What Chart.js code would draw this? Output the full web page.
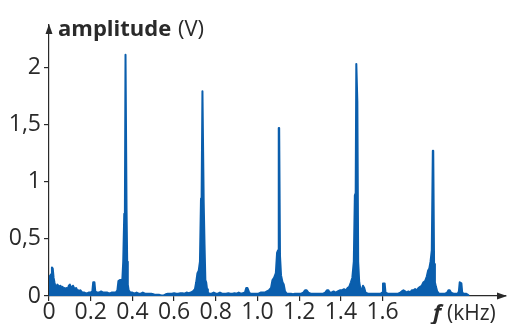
<!DOCTYPE html>
<html>
<head>
<meta charset="utf-8">
<script src="https://cdn.jsdelivr.net/npm/chart.js@4.4.0/dist/chart.umd.min.js"></script>
<style>
  html, body { margin: 0; padding: 0; background: #fff; }
  #wrap { width: 507px; height: 324px; }
</style>
</head>
<body>
<div id="wrap"><canvas id="spectre"></canvas></div>
<script>
// Spectre : fréquences (kHz) et amplitudes (V)
const freqs = [
  0.000, 0.005, 0.010, 0.014, 0.018, 0.022, 0.026, 0.030, 0.035, 0.040,
  0.045, 0.050, 0.055, 0.060, 0.065, 0.070, 0.075, 0.080, 0.085, 0.090,
  0.095, 0.100, 0.105, 0.110, 0.115, 0.120, 0.125, 0.130, 0.135, 0.140,
  0.145, 0.150, 0.155, 0.160, 0.170, 0.180, 0.190, 0.200, 0.208, 0.212,
  0.218, 0.222, 0.230, 0.240, 0.250, 0.260, 0.270, 0.280, 0.290, 0.300,
  0.310, 0.320, 0.328, 0.333, 0.340, 0.348, 0.352, 0.356, 0.361, 0.364,
  0.367, 0.369, 0.372, 0.375, 0.378, 0.382, 0.390, 0.400, 0.410, 0.420,
  0.430, 0.440, 0.450, 0.460, 0.470, 0.480, 0.490, 0.500, 0.510, 0.520,
  0.530, 0.540, 0.550, 0.560, 0.570, 0.580, 0.590, 0.600, 0.610, 0.620,
  0.630, 0.640, 0.650, 0.660, 0.670, 0.680, 0.690, 0.700, 0.706, 0.712,
  0.718, 0.724, 0.729, 0.732, 0.736, 0.738, 0.742, 0.746, 0.750, 0.754,
  0.758, 0.762, 0.770, 0.780, 0.790, 0.800, 0.810, 0.820, 0.830, 0.840,
  0.850, 0.860, 0.870, 0.880, 0.890, 0.900, 0.910, 0.920, 0.930, 0.940,
  0.946, 0.952, 0.958, 0.965, 0.975, 0.985, 0.995, 1.005, 1.015, 1.025,
  1.035, 1.045, 1.055, 1.065, 1.072, 1.080, 1.088, 1.094, 1.099, 1.102,
  1.104, 1.108, 1.113, 1.120, 1.126, 1.132, 1.140, 1.150, 1.160, 1.170,
  1.180, 1.190, 1.200, 1.210, 1.220, 1.228, 1.236, 1.244, 1.255, 1.265,
  1.275, 1.285, 1.295, 1.305, 1.315, 1.325, 1.333, 1.340, 1.346, 1.355,
  1.365, 1.375, 1.385, 1.395, 1.405, 1.415, 1.425, 1.432, 1.440, 1.448,
  1.455, 1.462, 1.467, 1.471, 1.474, 1.476, 1.479, 1.483, 1.488, 1.494,
  1.500, 1.506, 1.512, 1.518, 1.530, 1.540, 1.550, 1.560, 1.570, 1.580,
  1.590, 1.598, 1.602, 1.610, 1.614, 1.625, 1.635, 1.645, 1.655, 1.665,
  1.675, 1.685, 1.692, 1.700, 1.708, 1.716, 1.724, 1.732, 1.740, 1.748,
  1.756, 1.764, 1.772, 1.780, 1.788, 1.796, 1.804, 1.812, 1.818, 1.824,
  1.830, 1.836, 1.841, 1.843, 1.847, 1.851, 1.856, 1.862, 1.870, 1.880,
  1.890, 1.900, 1.910, 1.916, 1.922, 1.928, 1.940, 1.950, 1.960, 1.966,
  1.970, 1.978, 1.982, 1.990, 2.000, 2.010, 2.015
];

const amps = [
  0.18, 0.17, 0.19, 0.25, 0.24, 0.16, 0.12, 0.09, 0.08, 0.10,
  0.09, 0.08, 0.09, 0.07, 0.08, 0.06, 0.07, 0.06, 0.07, 0.06,
  0.09, 0.10, 0.08, 0.07, 0.09, 0.07, 0.06, 0.07, 0.05, 0.05,
  0.04, 0.05, 0.04, 0.03, 0.03, 0.02, 0.03, 0.03, 0.04, 0.12,
  0.12, 0.04, 0.03, 0.03, 0.04, 0.03, 0.03, 0.03, 0.02, 0.03,
  0.03, 0.03, 0.05, 0.13, 0.14, 0.14, 0.15, 0.30, 0.72, 0.74,
  2.11, 2.11, 0.75, 0.30, 0.10, 0.05, 0.03, 0.03, 0.02, 0.03,
  0.02, 0.02, 0.03, 0.02, 0.02, 0.02, 0.02, 0.015, 0.01, 0.01,
  0.01, 0.005, 0.005, 0.015, 0.02, 0.02, 0.02, 0.025, 0.02, 0.02,
  0.025, 0.025, 0.02, 0.03, 0.025, 0.03, 0.04, 0.06, 0.12, 0.20,
  0.22, 0.30, 0.85, 0.86, 1.79, 1.79, 0.82, 0.45, 0.14, 0.12,
  0.06, 0.03, 0.02, 0.02, 0.03, 0.02, 0.02, 0.03, 0.02, 0.02,
  0.02, 0.025, 0.02, 0.02, 0.025, 0.02, 0.03, 0.02, 0.025, 0.03,
  0.07, 0.07, 0.04, 0.02, 0.02, 0.02, 0.02, 0.02, 0.03, 0.03,
  0.03, 0.04, 0.05, 0.07, 0.14, 0.16, 0.20, 0.38, 0.40, 1.47,
  1.47, 0.35, 0.18, 0.12, 0.10, 0.04, 0.02, 0.02, 0.02, 0.015,
  0.02, 0.02, 0.02, 0.02, 0.03, 0.05, 0.05, 0.03, 0.02, 0.02,
  0.02, 0.02, 0.02, 0.02, 0.02, 0.03, 0.05, 0.05, 0.03, 0.03,
  0.04, 0.03, 0.04, 0.05, 0.05, 0.06, 0.05, 0.07, 0.08, 0.12,
  0.16, 0.30, 0.88, 0.90, 2.03, 2.03, 1.70, 0.30, 0.12, 0.06,
  0.05, 0.09, 0.07, 0.03, 0.02, 0.02, 0.02, 0.02, 0.02, 0.02,
  0.02, 0.03, 0.11, 0.11, 0.03, 0.02, 0.02, 0.02, 0.02, 0.02,
  0.02, 0.03, 0.04, 0.05, 0.04, 0.03, 0.04, 0.03, 0.05, 0.05,
  0.06, 0.05, 0.07, 0.08, 0.09, 0.12, 0.13, 0.17, 0.22, 0.24,
  0.30, 0.40, 1.27, 1.27, 0.28, 0.12, 0.08, 0.04, 0.02, 0.02,
  0.02, 0.02, 0.03, 0.05, 0.05, 0.03, 0.02, 0.02, 0.02, 0.04,
  0.12, 0.11, 0.03, 0.02, 0.02, 0.01, 0.0
];

// Graduations des axes
const xTicks = [0, 0.2, 0.4, 0.6, 0.8, 1.0, 1.2, 1.4, 1.6];
const xTickLabels = ['0', '0.2', '0.4', '0.6', '0.8', '1.0', '1.2', '1.4', '1.6'];
const yTicks = [0, 0.5, 1, 1.5, 2];
const yTickLabels = ['0', '0,5', '1', '1,5', '2'];

const bleu = '#0a5ead';
const encre = '#2a2a2a';
const police = '"Open Sans", "Noto Sans", sans-serif';

// Flèches des axes et titres
const axesPlugin = {
  id: 'axesFleches',
  afterDraw(chart) {
    const ctx = chart.ctx;
    const a = chart.chartArea;
    ctx.save();
    ctx.fillStyle = encre;
    // flèche verticale
    ctx.beginPath();
    ctx.moveTo(a.left, a.top - 1);
    ctx.lineTo(a.left - 3.5, a.top + 9);
    ctx.lineTo(a.left + 3.5, a.top + 9);
    ctx.closePath();
    ctx.fill();
    // flèche horizontale
    ctx.beginPath();
    ctx.moveTo(a.right + 1, a.bottom);
    ctx.lineTo(a.right - 9, a.bottom - 3.5);
    ctx.lineTo(a.right - 9, a.bottom + 3.5);
    ctx.closePath();
    ctx.fill();

    // titre de l'axe des ordonnées
    ctx.textBaseline = 'alphabetic';
    ctx.textAlign = 'left';
    ctx.font = 'bold 22px ' + police;
    ctx.fillText('amplitude', 58, 36);
    ctx.font = '22px ' + police;
    ctx.fillText('(V)', 178, 36);

    // titre de l'axe des abscisses
    ctx.font = 'italic bold 22px ' + police;
    ctx.fillText('f', 433, 320);
    ctx.font = '21px ' + police;
    ctx.fillText('(kHz)', 447, 320);
    ctx.restore();
  }
};

const points = freqs.map((f, i) => ({ x: f, y: amps[i] }));

new Chart(document.getElementById('spectre'), {
  type: 'line',
  data: {
    datasets: [{
      data: points,
      borderColor: bleu,
      backgroundColor: bleu,
      borderWidth: 2,
      borderJoinStyle: 'round',
      pointRadius: 0,
      tension: 0,
      fill: 'origin'
    }]
  },
  options: {
    responsive: true,
    maintainAspectRatio: false,
    animation: false,
    layout: { padding: { top: 25, right: 1, left: 0, bottom: 0 } },
    plugins: {
      legend: { display: false },
      tooltip: { enabled: false }
    },
    scales: {
      x: {
        type: 'linear',
        min: 0,
        max: 2.192,
        afterBuildTicks: s => { s.ticks = xTicks.map(v => ({ value: v })); },
        afterFit: s => { s.height = 28; },
        ticks: {
          autoSkip: false,
          maxRotation: 0,
          padding: 0,
          color: encre,
          font: { family: police, size: 23, lineHeight: 1 },
          callback: v => xTickLabels[xTicks.indexOf(v)]
        },
        grid: { drawOnChartArea: false, tickLength: 5, color: encre, lineWidth: 1.2 },
        border: { color: encre, width: 1.2 }
      },
      y: {
        min: 0,
        max: 2.37,
        afterBuildTicks: s => { s.ticks = yTicks.map(v => ({ value: v })); },
        afterFit: s => { s.width = 49; },
        ticks: {
          padding: 3,
          color: encre,
          font: { family: police, size: 23, lineHeight: 1 },
          callback: v => yTickLabels[yTicks.indexOf(v)]
        },
        grid: { drawOnChartArea: false, tickLength: 5, color: encre, lineWidth: 1.2 },
        border: { color: encre, width: 1.2 }
      }
    }
  },
  plugins: [axesPlugin]
});
</script>
</body>
</html>
